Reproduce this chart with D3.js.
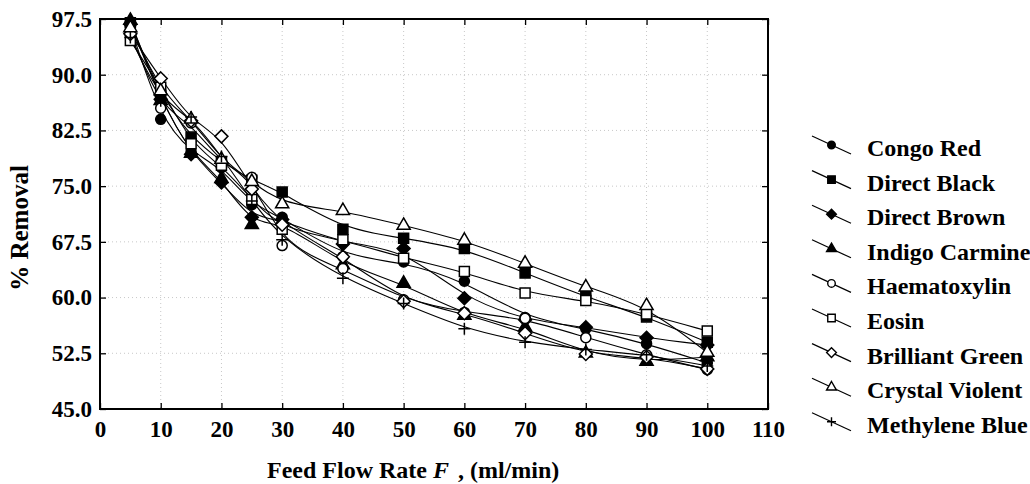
<!DOCTYPE html>
<html><head><meta charset="utf-8">
<script src="https://cdn.jsdelivr.net/npm/d3@7"></script>
<style>
body{margin:0;background:#fff}
svg{display:block}
text{font-family:"Liberation Serif","Times New Roman",serif;font-weight:bold;fill:#000}
</style>
</head><body>
<svg id="c" width="1030" height="484"></svg>
<script>
// ---- data ----
const flowRates = [5,10,15,20,25,30,40,50,60,70,80,90,100];
const seriesNames = ["Congo Red","Direct Black","Direct Brown","Indigo Carmine","Haematoxylin","Eosin","Brilliant Green","Crystal Violent","Methylene Blue"];
const congoRed      = [96.5, 84.0, 79.6, 77.5, 72.5, 70.8, 65.5, 64.8, 62.2, 57.3, 55.8, 53.8, 51.2];
const directBlack   = [97.0, 87.2, 81.6, 78.3, 75.8, 74.2, 69.2, 68.0, 66.6, 63.3, 60.1, 57.4, 54.0];
const directBrown   = [96.8, 86.7, 79.3, 75.5, 70.8, 70.5, 67.2, 66.6, 59.9, 57.0, 56.0, 54.6, 53.6];
const indigoCarmine = [97.3, 86.5, 79.4, 76.0, 69.8, 70.3, 64.4, 61.9, 57.6, 56.0, 52.5, 51.4, 52.0];
const haematoxylin  = [95.5, 85.5, 83.5, 78.0, 76.2, 67.0, 63.9, 59.7, 58.0, 57.2, 54.6, 52.3, 50.3];
const eosin         = [94.6, 88.3, 80.7, 77.8, 73.2, 69.2, 67.8, 65.3, 63.5, 60.6, 59.6, 57.8, 55.5];
const brilliantGreen= [95.5, 89.5, 83.8, 81.7, 74.6, 69.8, 65.5, 59.5, 57.9, 55.2, 52.4, 52.0, 50.4];
const crystalViolet = [96.3, 87.8, 84.0, 78.6, 75.6, 72.6, 71.7, 69.7, 67.7, 64.6, 61.4, 58.9, 52.6];
const methyleneBlue = [95.0, 86.5, 84.3, 79.0, 73.0, 67.8, 62.6, 59.2, 55.8, 54.0, 53.0, 52.3, 50.8];
const seriesValues = [congoRed, directBlack, directBrown, indigoCarmine, haematoxylin, eosin, brilliantGreen, crystalViolet, methyleneBlue];
const xTicks = [0,10,20,30,40,50,60,70,80,90,100,110];
const yTicks = [45.0,52.5,60.0,67.5,75.0,82.5,90.0,97.5];

// marker styles
const markerShapes = ["circle","square","diamond","triangle","circle","square","diamond","triangle","plus"];
const markerFilled = [true,true,true,true,false,false,false,false,false];

const svg = d3.select("#c");
const L = 100, R = 768, T = 19, B = 409;
const x = d3.scaleLinear().domain([0,110]).range([L,R]);
const y = d3.scaleLinear().domain([45,97.5]).range([B,T]);

function shapePath(shape, s){
  if(shape==="circle") return d3.symbol(d3.symbolCircle, 80*s*s)();
  if(shape==="square") return d3.symbol(d3.symbolSquare, 100*s*s)();
  if(shape==="triangle") return d3.symbol(d3.symbolTriangle, 75*s*s)();
  if(shape==="diamond"){ const r=6.5*s; return `M0,${-r}L${r},0L0,${r}L${-r},0Z`; }
  if(shape==="plus"){ const r=6*s; return `M${-r},0H${r}M0,${-r}V${r}`; }
}

// grid
const grid = svg.append("g").attr("stroke","#c8c8c8").attr("stroke-width",1).attr("stroke-dasharray","1,3");
grid.selectAll(".gx").data(xTicks.filter(t=>t>0&&t<110)).join("line")
  .attr("x1",d=>x(d)).attr("x2",d=>x(d)).attr("y1",T).attr("y2",B);
grid.selectAll(".gy").data(yTicks.filter(t=>t>45&&t<97.5)).join("line")
  .attr("y1",d=>y(d)).attr("y2",d=>y(d)).attr("x1",L).attr("x2",R);

// axes
const fmtY = d3.format(".1f");
const gB = svg.append("g").attr("transform",`translate(0,${B})`)
  .call(d3.axisBottom(x).tickValues(xTicks).tickSizeInner(-6).tickSizeOuter(0).tickPadding(12).tickFormat(d3.format("d")));
const gL = svg.append("g").attr("transform",`translate(${L},0)`)
  .call(d3.axisLeft(y).tickValues(yTicks).tickSizeInner(-6).tickSizeOuter(0).tickPadding(8).tickFormat(fmtY));
const gT = svg.append("g").attr("transform",`translate(0,${T})`)
  .call(d3.axisTop(x).tickValues(xTicks).tickSizeInner(-6).tickSizeOuter(0).tickFormat(""));
const gR = svg.append("g").attr("transform",`translate(${R},0)`)
  .call(d3.axisRight(y).tickValues(yTicks).tickSizeInner(-6).tickSizeOuter(0).tickFormat(""));
[gB,gL,gT,gR].forEach(g=>{
  g.select(".domain").remove();
  g.selectAll(".tick line").attr("stroke","#000").attr("stroke-width",1.3);
  g.selectAll("text").attr("font-family",null).attr("font-size",null)
    .style("font-size","23px").style("font-family",'"Liberation Serif",serif').style("font-weight","bold").attr("fill","#000");
});

// frame
svg.append("rect").attr("x",L).attr("y",T).attr("width",R-L).attr("height",B-T)
  .attr("fill","none").attr("stroke","#000").attr("stroke-width",2);

// lines
const line = d3.line().x((d,i)=>x(flowRates[i])).y(d=>y(d)).curve(d3.curveBasis);
svg.append("g").selectAll("path").data(seriesValues).join("path")
  .attr("d",line).attr("fill","none").attr("stroke","#000").attr("stroke-width",1.1);

// markers
seriesValues.forEach((vals,si)=>{
  const shape = markerShapes[si], filled = markerFilled[si];
  svg.append("g").selectAll("path").data(vals).join("path")
    .attr("transform",(d,i)=>`translate(${x(flowRates[i])},${y(d)})`)
    .attr("d",shapePath(shape,1))
    .attr("fill", shape==="plus" ? "none" : (filled ? "#000" : "#fff"))
    .attr("stroke","#000").attr("stroke-width",1.5);
});

// axis titles
svg.append("text").attr("transform","translate(28,228) rotate(-90)")
  .attr("text-anchor","middle").style("font-size","25px").text("% Removal");
const xt = svg.append("text").attr("x",267).attr("y",478).attr("text-anchor","start").style("font-size","24px");
xt.append("tspan").text("Feed Flow Rate ");
xt.append("tspan").style("font-style","italic").text("F");
xt.append("tspan").attr("dx",9).text(", (ml/min)");

// legend
const leg = svg.append("g");
seriesNames.forEach((name,i)=>{
  const b = 156 + i*34.6;
  const g = leg.append("g");
  g.append("line").attr("x1",812).attr("y1",b-20).attr("x2",851).attr("y2",b-2)
    .attr("stroke","#000").attr("stroke-width",1.2);
  g.append("path").attr("transform",`translate(831.5,${b-11})`)
    .attr("d",shapePath(markerShapes[i],0.75))
    .attr("fill", markerShapes[i]==="plus" ? "none" : (markerFilled[i] ? "#000" : "#fff"))
    .attr("stroke","#000").attr("stroke-width",1.4);
  g.append("text").attr("x",867).attr("y",b).style("font-size","24px").text(name);
});
</script>
</body></html>
